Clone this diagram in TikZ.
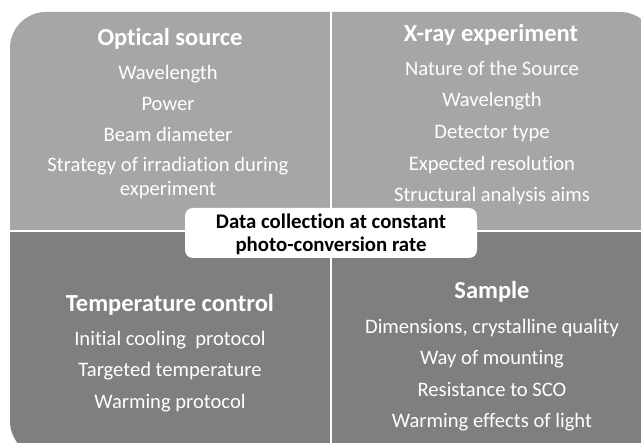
\documentclass[tikz,border=0pt]{standalone}
\usepackage{fontspec}
\setmainfont{Carlito}[Ligatures=NoCommon]
\usepackage{tikz}
\definecolor{quadlight}{HTML}{A6A6A6}
\definecolor{quaddark}{HTML}{7F7F7F}
\tikzset{
	head/.style={text=white, font=\bfseries\fontsize{24.5}{29}\selectfont, inner sep=0, text height=17pt, text depth=5pt},
	itemtext/.style={text=white, font=\fontsize{20.6}{24}\selectfont, inner sep=0, align=center},
	item/.style={itemtext, text height=15pt, text depth=4pt},
	centrebox/.style={shape=rectangle, rounded corners=8pt, fill=white, inner sep=0},
}

\begin{document}
\begin{tikzpicture}[x=1pt, y=1pt]
	\useasboundingbox (0,0) rectangle (641,443);
	% Quadrants and dividers:
	\begin{scope}
		\clip (0,0) rectangle (641,443);
		\clip[rounded corners=36pt] (10,-14) rectangle (656,431);
		\fill[quaddark] (0,-20) rectangle (660,212);
		\fill[quadlight] (0,212) rectangle (660,440);
		\draw[white, line width=2pt] (331,-20) -- (331,440);
		\draw[white, line width=2pt] (0,212) -- (660,212);
	\end{scope}
	% Optical source:
	\node[head] (Opt) at (170, 403) {Optical source};
	\node[item] (Opt1) at (168, 369) {Wavelength};
	\node[item] (Opt2) at (168, 338) {Power};
	\node[item] (Opt3) at (168, 307) {Beam diameter};
	\node[itemtext] (Opt4) at (168, 265) {Strategy of irradiation during\\experiment};
	% X-ray experiment:
	\node[head] (Xray) at (491, 407) {X-ray experiment};
	\node[item] (Xray1) at (492, 373) {Nature of the Source};
	\node[item] (Xray2) at (492, 342) {Wavelength};
	\node[item] (Xray3) at (492, 310) {Detector type};
	\node[item] (Xray4) at (492, 278) {Expected resolution};
	\node[item] (Xray5) at (492, 247) {Structural analysis aims};
	% Temperature control:
	\node[head] (Temp) at (170, 137) {Temperature control};
	\node[item] (Temp1) at (170, 103) {Initial cooling~ protocol};
	\node[item] (Temp2) at (170, 72) {Targeted temperature};
	\node[item] (Temp3) at (170, 40) {Warming protocol};
	% Sample:
	\node[head] (Samp) at (492, 150) {Sample};
	\node[item] (Samp1) at (492, 115) {Dimensions, crystalline quality};
	\node[item] (Samp2) at (492, 84) {Way of mounting};
	\node[item] (Samp3) at (492, 52) {Resistance to SCO};
	\node[item] (Samp4) at (492, 21) {Warming effects of light};
	% Centre box:
	\node[centrebox, minimum width=292pt, minimum height=50pt] (Rect1) at (331, 210) {};
	\node[anchor=center, align=center, inner sep=0, font=\bfseries\fontsize{20.8}{23}\selectfont] at ([yshift=-1pt]Rect1.center) {Data collection at constant\\photo-conversion rate};
\end{tikzpicture}
\end{document}
